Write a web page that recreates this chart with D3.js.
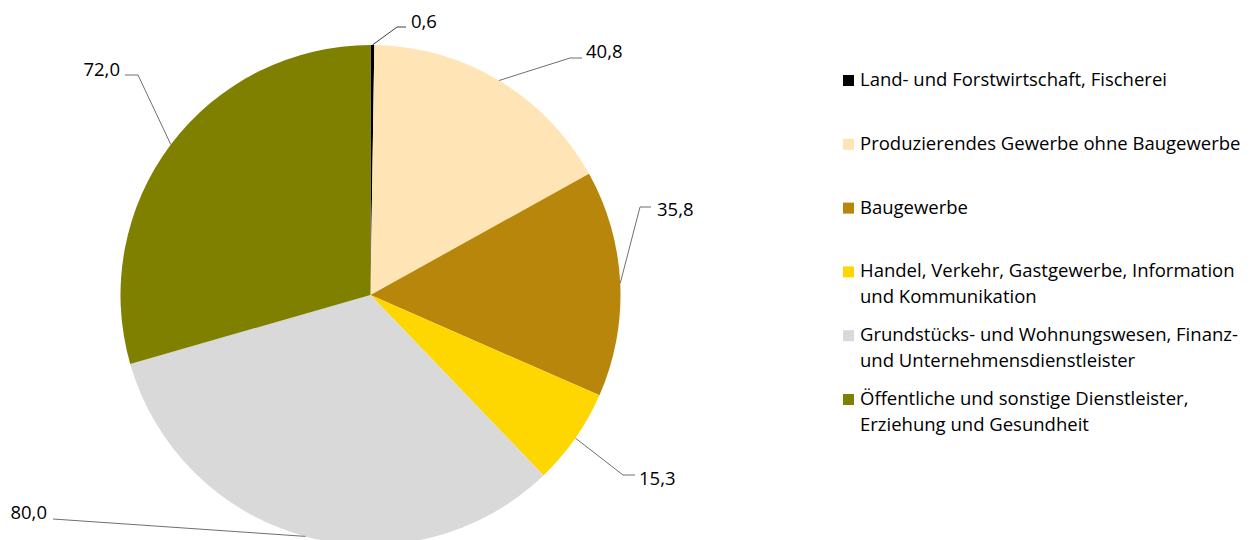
<!DOCTYPE html>
<html lang="de">
<head>
<meta charset="utf-8">
<script src="https://cdn.jsdelivr.net/npm/d3@7"></script>
<style>
  html, body { margin: 0; padding: 0; background: #fff; }
  svg { display: block; }
  text { font-family: "Open Sans", sans-serif; fill: #000; }
</style>
</head>
<body>
<svg id="chart" width="1252" height="540"></svg>
<script>
// Sectors (legend text split into the lines it is shown on)
const categories = [
  ["Land- und Forstwirtschaft, Fischerei"],
  ["Produzierendes Gewerbe ohne Baugewerbe"],
  ["Baugewerbe"],
  ["Handel, Verkehr, Gastgewerbe, Information", "und Kommunikation"],
  ["Grundstücks- und Wohnungswesen, Finanz-", "und Unternehmensdienstleister"],
  ["Öffentliche und sonstige Dienstleister,", "Erziehung und Gesundheit"]
];
const values = [0.6, 40.8, 35.8, 15.3, 80.0, 72.0];
const colors = ["#000000", "#FFE4B5", "#B8860B", "#FFD700", "#D9D9D9", "#808000"];

// Placement of the value labels: text anchor point, leader elbow and end of the short horizontal piece
const labelLayout = [
  { tx: 411, ty: 28,  ex: 397, ey: 27,  hx: 406, anchor: "start" },
  { tx: 586, ty: 58,  ex: 570, ey: 58,  hx: 582, anchor: "start" },
  { tx: 657, ty: 216, ex: 640, ey: 207, hx: 651, anchor: "start" },
  { tx: 639, ty: 485, ex: 623, ey: 475, hx: 635, anchor: "start" },
  { tx: 47,  ty: 519, ex: 53,  ey: 519, hx: 53,  anchor: "end" },
  { tx: 120, ty: 76,  ex: 138, ey: 75,  hx: 125, anchor: "end" }
];

const fmt = v => d3.format(".1f")(v).replace(".", ",");
const fontSize = 18.5;

const svg = d3.select("#chart");
const cx = 370.5, cy = 295, radius = 250;

const pie = d3.pie().sort(null).value(d => d);
const arcs = pie(values);
const arc = d3.arc().innerRadius(0).outerRadius(radius);
const edge = d3.arc().innerRadius(radius).outerRadius(radius);

const g = svg.append("g").attr("transform", `translate(${cx},${cy})`);
g.selectAll("path.slice")
  .data(arcs)
  .join("path")
  .attr("class", "slice")
  .attr("d", arc)
  .attr("fill", (d, i) => colors[i]);

// Leader lines from the middle of each slice's rim to its label
const labels = svg.append("g");
arcs.forEach((d, i) => {
  const L = labelLayout[i];
  const [ax, ay] = edge.centroid(d);
  labels.append("polyline")
    .attr("points", [[cx + ax, cy + ay], [L.ex, L.ey], [L.hx, L.ey]].map(p => p.join(",")).join(" "))
    .attr("fill", "none")
    .attr("stroke", i === 0 ? "#404040" : "#6f6f6f")
    .attr("stroke-width", 1);
  labels.append("text")
    .attr("x", L.tx)
    .attr("y", L.ty)
    .attr("text-anchor", L.anchor)
    .attr("font-size", fontSize)
    .text(fmt(values[i]));
});

// Legend
const legend = svg.append("g").attr("transform", "translate(843,86)");
const rowStep = 63.8, lineStep = 25.6;
categories.forEach((lines, i) => {
  const row = legend.append("g").attr("transform", `translate(0,${i * rowStep})`);
  row.append("rect")
    .attr("x", 0).attr("y", -11)
    .attr("width", 11).attr("height", 11)
    .attr("fill", colors[i]);
  const t = row.append("text").attr("x", 17).attr("y", 0).attr("font-size", fontSize);
  lines.forEach((ln, j) => {
    t.append("tspan").attr("x", 17).attr("y", j * lineStep).text(ln);
  });
});
</script>
</body>
</html>
